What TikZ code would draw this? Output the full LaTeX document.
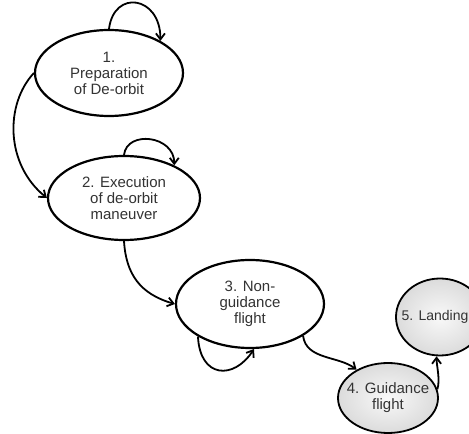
\documentclass[tikz,border=0pt]{standalone}
\usepackage{fontspec}
\setmainfont{Liberation Sans}
\usetikzlibrary{shapes.geometric,arrows.meta}

\begin{document}
\begin{tikzpicture}[x=1pt,y=1pt,
    every node/.style={font=\fontsize{15}{16}\selectfont, text=black!80},
    state/.style={ellipse, draw, line width=2.2pt, fill=white, inner sep=0pt},
    endstate/.style={state, line width=1.8pt, shading=radial, inner color=gray!5, outer color=gray!28},
    flow/.style={line width=1.8pt, -{Straight Barb[length=6pt,width=9pt]}}]
      \useasboundingbox (0,0) rectangle (469,434);
      \clip (0,0) rectangle (469,434);

      \node[state, minimum width=148pt, minimum height=86pt,
        label={[align=center]center:1.\\Preparation\\of De-orbit}] (n1) at (109,361) {};
      \node[state, minimum width=152pt, minimum height=84pt,
        label={[align=center]center:2. Execution\\of de-orbit\\maneuver}] (n2) at (124,236) {};
      \node[state, minimum width=148pt, minimum height=88pt,
        label={[align=center]center:3. Non-\\guidance\\flight}] (n3) at (250,130) {};
      \node[endstate, minimum width=100pt, minimum height=70pt,
        label={[align=center]center:4. Guidance\\flight}] (n4) at (388,36) {};
      \node[endstate, minimum width=88pt, minimum height=77pt,
        label={[font=\fontsize{14}{16}\selectfont, xshift=-5pt]center:5. Landing}] (n5) at (440,117) {};

      % self loops
      \draw[flow] (n1.north) .. controls +(5,40) and +(0,45) .. (n1.32);
      \draw[flow] (n2.north) .. controls +(3,25) and +(0,30) .. (n2.33);
      \draw[flow] (n3.212) .. controls +(2,-42) and +(-20,-31) .. (n3.275);

      % transitions
      \draw[flow] (n1.west) .. controls (5,330) and (5,270) .. (n2.west);
      \draw[flow] (n2.south) .. controls (126,160) and (140,140) .. (n3.west);
      \draw[flow] (n3.329) .. controls +(3,-24) and +(-18,14) .. (n4.138);
      \draw[flow] (n4.10) .. controls +(3,10) and +(0,-10) .. (n5.265);
\end{tikzpicture}
\end{document}
